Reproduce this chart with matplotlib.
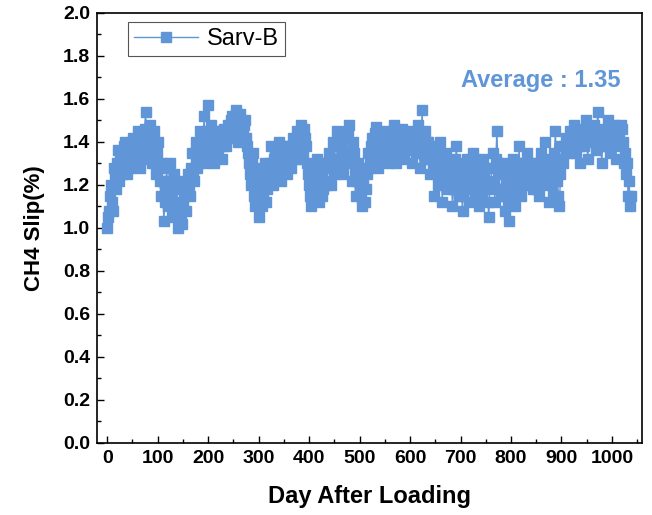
import numpy as np
import matplotlib
matplotlib.use("Agg")
import matplotlib.pyplot as plt
from matplotlib.ticker import MultipleLocator, FormatStrFormatter

plt.rcParams['font.family'] = ['Liberation Sans', 'DejaVu Sans']

# CH4 slip readings (%), taken every 2 days after loading.
# slip_a: days 0, 4, 8, ...   slip_b: days 2, 6, 10, ...
slip_a = [
    1.00, 1.08, 1.20, 1.08, 1.25, 1.30, 1.22, 1.35, 1.28, 1.40,
    1.25, 1.38, 1.30, 1.42, 1.32, 1.45, 1.28, 1.36, 1.40, 1.54,
    1.35, 1.48, 1.30, 1.45, 1.25, 1.40, 1.22, 1.30, 1.03, 1.20,
    1.10, 1.30, 1.05, 1.25, 1.12, 1.00, 1.18, 1.02, 1.20, 1.08,
    1.25, 1.15, 1.35, 1.22, 1.40, 1.30, 1.45, 1.32, 1.52, 1.38,
    1.57, 1.35, 1.42, 1.30, 1.45, 1.36, 1.40, 1.32, 1.46, 1.38,
    1.48, 1.42, 1.52, 1.45, 1.55, 1.40, 1.53, 1.44, 1.50, 1.38,
    1.30, 1.20, 1.35, 1.10, 1.28, 1.05, 1.22, 1.15, 1.30, 1.18,
    1.25, 1.38, 1.20, 1.35, 1.28, 1.40, 1.22, 1.32, 1.38, 1.25,
    1.35, 1.28, 1.42, 1.32, 1.45, 1.38, 1.48, 1.35, 1.42, 1.30,
    1.20, 1.10, 1.28, 1.15, 1.32, 1.12, 1.25, 1.18, 1.30, 1.22,
    1.35, 1.20, 1.40, 1.28, 1.45, 1.30, 1.38, 1.25, 1.42, 1.32,
    1.48, 1.22, 1.35, 1.15, 1.30, 1.20, 1.10, 1.28, 1.18, 1.35,
    1.30, 1.42, 1.35, 1.47, 1.28, 1.40, 1.32, 1.45, 1.38, 1.30,
    1.42, 1.35, 1.48, 1.30, 1.44, 1.38, 1.46, 1.32, 1.40, 1.36,
    1.45, 1.30, 1.42, 1.35, 1.48, 1.28, 1.55, 1.38, 1.32, 1.40,
    1.25, 1.38, 1.15, 1.32, 1.20, 1.40, 1.12, 1.28, 1.35, 1.18,
    1.30, 1.10, 1.25, 1.38, 1.15, 1.28, 1.08, 1.22, 1.32, 1.12,
    1.25, 1.35, 1.15, 1.30, 1.10, 1.22, 1.32, 1.18, 1.28, 1.05,
    1.20, 1.35, 1.12, 1.45, 1.25, 1.15, 1.30, 1.08, 1.22, 1.03,
    1.18, 1.32, 1.10, 1.25, 1.38, 1.15, 1.30, 1.22, 1.35, 1.20,
    1.28, 1.18, 1.30, 1.22, 1.15, 1.35, 1.25, 1.40, 1.20, 1.12,
    1.30, 1.15, 1.45, 1.22, 1.10, 1.38, 1.30, 1.42, 1.35, 1.45,
    1.38, 1.48, 1.35, 1.42, 1.30, 1.46, 1.38, 1.50, 1.32, 1.44,
    1.40, 1.48, 1.36, 1.54, 1.42, 1.30, 1.45, 1.38, 1.50, 1.35,
    1.42, 1.48, 1.32, 1.45, 1.38, 1.46, 1.30, 1.25, 1.15, 1.10,
]
slip_b = [
    1.05, 1.15, 1.12, 1.28, 1.18, 1.36, 1.32, 1.25, 1.38, 1.30,
    1.35, 1.28, 1.40, 1.35, 1.38, 1.30, 1.42, 1.32, 1.46, 1.40,
    1.42, 1.38, 1.40, 1.30, 1.35, 1.28, 1.15, 1.22, 1.12, 1.28,
    1.22, 1.15, 1.18, 1.08, 1.22, 1.10, 1.05, 1.12, 1.15, 1.20,
    1.18, 1.28, 1.25, 1.35, 1.28, 1.38, 1.35, 1.42, 1.30, 1.45,
    1.40, 1.48, 1.38, 1.42, 1.35, 1.40, 1.45, 1.38, 1.42, 1.44,
    1.42, 1.50, 1.46, 1.52, 1.48, 1.50, 1.45, 1.48, 1.42, 1.35,
    1.25, 1.30, 1.15, 1.25, 1.12, 1.20, 1.10, 1.25, 1.12, 1.22,
    1.30, 1.22, 1.32, 1.25, 1.35, 1.30, 1.28, 1.35, 1.30, 1.38,
    1.30, 1.38, 1.35, 1.40, 1.32, 1.44, 1.40, 1.46, 1.38, 1.25,
    1.15, 1.22, 1.18, 1.25, 1.20, 1.30, 1.15, 1.28, 1.20, 1.30,
    1.28, 1.32, 1.25, 1.38, 1.32, 1.40, 1.35, 1.30, 1.36, 1.45,
    1.30, 1.40, 1.25, 1.22, 1.25, 1.15, 1.22, 1.12, 1.25, 1.28,
    1.38, 1.32, 1.44, 1.36, 1.42, 1.35, 1.40, 1.35, 1.44, 1.40,
    1.36, 1.45, 1.38, 1.40, 1.35, 1.42, 1.40, 1.38, 1.44, 1.42,
    1.38, 1.40, 1.36, 1.44, 1.38, 1.42, 1.35, 1.45, 1.40, 1.32,
    1.35, 1.28, 1.30, 1.25, 1.35, 1.22, 1.30, 1.20, 1.25, 1.30,
    1.22, 1.18, 1.32, 1.20, 1.25, 1.15, 1.30, 1.18, 1.22, 1.28,
    1.18, 1.25, 1.22, 1.20, 1.28, 1.15, 1.25, 1.22, 1.12, 1.18,
    1.28, 1.22, 1.32, 1.30, 1.18, 1.25, 1.15, 1.28, 1.12, 1.15,
    1.25, 1.20, 1.30, 1.18, 1.25, 1.28, 1.20, 1.30, 1.25, 1.28,
    1.22, 1.25, 1.18, 1.30, 1.28, 1.22, 1.32, 1.28, 1.30, 1.25,
    1.20, 1.35, 1.28, 1.15, 1.25, 1.32, 1.38, 1.36, 1.40, 1.38,
    1.44, 1.40, 1.45, 1.38, 1.42, 1.40, 1.44, 1.42, 1.40, 1.46,
    1.45, 1.42, 1.46, 1.44, 1.38, 1.42, 1.40, 1.46, 1.42, 1.44,
    1.46, 1.40, 1.44, 1.42, 1.48, 1.40, 1.35, 1.30, 1.22, 1.15,
]
series_name = "Sarv-B"
average_text = "Average : 1.35"

days_a = np.arange(len(slip_a)) * 4
days_b = np.arange(len(slip_b)) * 4 + 2
days = np.concatenate([days_a, days_b])
slip = np.concatenate([slip_a, slip_b])
order = np.argsort(days, kind='stable')
days, slip = days[order], slip[order]

blue = '#6096d8'

fig = plt.figure(figsize=(6.52, 5.15), dpi=100)
ax = fig.add_axes([0.149, 0.140, 0.836, 0.835])

ax.plot(days, slip, color=blue, lw=1.0, marker='s', ms=7.5,
        mec=blue, mfc=blue, label=series_name)

ax.set_xlim(-20, 1060)
ax.set_ylim(0, 2.0)
ax.xaxis.set_major_locator(MultipleLocator(100))
ax.xaxis.set_minor_locator(MultipleLocator(50))
ax.yaxis.set_major_locator(MultipleLocator(0.2))
ax.yaxis.set_minor_locator(MultipleLocator(0.1))
ax.yaxis.set_major_formatter(FormatStrFormatter('%.1f'))
ax.tick_params(which='both', direction='in', top=False, right=False,
               width=1.0)
ax.tick_params(which='major', length=5, labelsize=14, pad=5)
ax.tick_params(which='minor', length=3)
for lab in ax.get_xticklabels() + ax.get_yticklabels():
    lab.set_fontweight('bold')
for sp in ax.spines.values():
    sp.set_linewidth(1.2)

ax.set_xlabel("Day After Loading", fontsize=17, fontweight='bold', labelpad=13)
ax.set_ylabel("CH4 Slip(%)", fontsize=16, fontweight='bold', labelpad=13)

ax.text(0.96, 0.842, average_text, transform=ax.transAxes, ha='right',
        va='center', fontsize=17, fontweight='bold', color=blue)

leg = ax.legend(loc='upper left', bbox_to_anchor=(0.057, 0.979),
                borderaxespad=0, fontsize=17, fancybox=False,
                handlelength=2.7, borderpad=0.25, handletextpad=0.4,
                framealpha=1)
leg.get_frame().set_edgecolor('#555555')
leg.get_frame().set_linewidth(0.8)

fig.savefig("out.png", dpi=100)
